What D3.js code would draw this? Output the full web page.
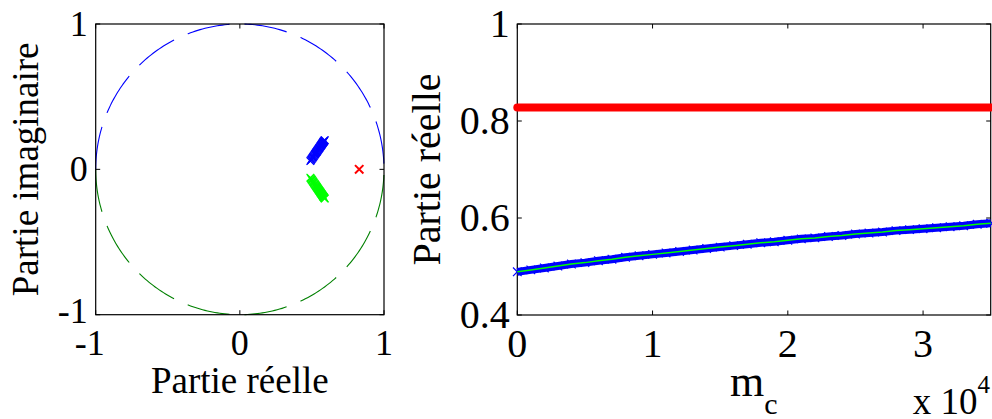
<!DOCTYPE html>
<html><head><meta charset="utf-8">
<script src="https://cdn.jsdelivr.net/npm/d3@7"></script>
<style>
body{margin:0;background:#fff}
svg{display:block}
</style>
</head><body>
<svg id="c" width="992" height="419" font-family="'Liberation Serif', 'DejaVu Serif', serif"></svg>
<script>
// ---- data ----
const mcValues = [0,1000,2000,3000,4000,5000,6000,7000,8000,9000,10000,11000,12000,13000,14000,15000,16000,17000,18000,19000,20000,21000,22000,23000,24000,25000,26000,27000,28000,29000,30000,31000,32000,33000,34000,35000];
const realPart = [0.489,0.493,0.497,0.501,0.505,0.508,0.512,0.515,0.519,0.522,0.525,0.528,0.531,0.534,0.537,0.540,0.543,0.546,0.549,0.551,0.554,0.557,0.559,0.562,0.564,0.567,0.569,0.571,0.574,0.576,0.578,0.580,0.582,0.584,0.587,0.589];
const imagPart = [0.057,0.063,0.069,0.074,0.080,0.085,0.090,0.095,0.101,0.105,0.109,0.114,0.118,0.122,0.127,0.131,0.135,0.140,0.144,0.147,0.151,0.156,0.159,0.163,0.166,0.170,0.173,0.176,0.180,0.183,0.186,0.189,0.192,0.194,0.199,0.201];
const redReal = [0.828,0.828,0.828,0.828,0.828,0.828,0.828,0.828,0.828,0.828,0.828,0.828,0.828,0.828,0.828,0.828,0.828,0.828,0.828,0.828,0.828,0.828,0.828,0.828,0.828,0.828,0.828,0.828,0.828,0.828,0.828,0.828,0.828,0.828,0.828,0.828];
const redImag = [0];
const redRealPoint = [0.828];
const circleTicks = [-1,0,1];
const circleTickLabels = ["-1","0","1"];
const mcTicks = [0,10000,20000,30000];
const mcTickLabels = ["0","1","2","3"];
const realTicks = [0.4,0.6,0.8,1];
const realTickLabels = ["0.4","0.6","0.8","1"];

const FONT = "'Liberation Serif', 'DejaVu Serif', serif";
const svg = d3.select("#c");
const TICKFS = 36, LABFS = 37, RTICKFS = 40;

function txt(g){ return g.append("text").attr("font-family",FONT).attr("fill","#000"); }

// ---------------- left panel: unit circle ----------------
const L = {x0:95.7, x1:384, y0:24, y1:314.7};
const lx = d3.scaleLinear().domain([-1,1]).range([L.x0, L.x1]);
const ly = d3.scaleLinear().domain([-1,1]).range([L.y1, L.y0]);
const gl = svg.append("g");

// unit circle reference (geometric construction)
const angUpper = d3.range(0, 181, 1).map(d => Math.PI - d*Math.PI/180);
const angLower = d3.range(0, 181, 1).map(d => Math.PI + d*Math.PI/180);
const circLine = d3.line().x(a => lx(Math.cos(a))).y(a => ly(Math.sin(a)));
gl.append("path").attr("d", circLine(angUpper)).attr("fill","none")
  .attr("stroke","#0000ff").attr("stroke-width",1.1).attr("stroke-dasharray","43 15");
gl.append("path").attr("d", circLine(angLower)).attr("fill","none")
  .attr("stroke","#008000").attr("stroke-width",1.1).attr("stroke-dasharray","43 15");

// box
gl.append("rect").attr("x",L.x0).attr("y",L.y0).attr("width",L.x1-L.x0).attr("height",L.y1-L.y0)
  .attr("fill","none").attr("stroke","#000").attr("stroke-width",1.2);
const TL = 4.5;
circleTicks.forEach(t => {
  gl.append("line").attr("x1",lx(t)).attr("x2",lx(t)).attr("y1",L.y1).attr("y2",L.y1-TL).attr("stroke","#000");
  gl.append("line").attr("x1",lx(t)).attr("x2",lx(t)).attr("y1",L.y0).attr("y2",L.y0+TL).attr("stroke","#000");
  gl.append("line").attr("y1",ly(t)).attr("y2",ly(t)).attr("x1",L.x0).attr("x2",L.x0+TL).attr("stroke","#000");
  gl.append("line").attr("y1",ly(t)).attr("y2",ly(t)).attr("x1",L.x1).attr("x2",L.x1-TL).attr("stroke","#000");
});
circleTicks.forEach((t,i) => {
  txt(gl).attr("x",lx(t) - (t<0?6:0)).attr("y",L.y1+40).attr("text-anchor","middle")
    .attr("font-size",TICKFS).text(circleTickLabels[i]);
  txt(gl).attr("x",L.x0-8).attr("y",ly(t)+0.33*TICKFS - (t<0?4:0)).attr("text-anchor","end")
    .attr("font-size",TICKFS).text(circleTickLabels[i]);
});
txt(gl).attr("x",(L.x0+L.x1)/2).attr("y",393).attr("text-anchor","middle")
  .attr("font-size",LABFS).text("Partie réelle");
txt(gl).attr("transform",`translate(38,${(L.y0+L.y1)/2}) rotate(-90)`).attr("text-anchor","middle")
  .attr("font-size",LABFS).text("Partie imaginaire");

// x markers
function xMark(g, px, py, s, color, w){
  g.append("path").attr("d",`M${px-s},${py-s}L${px+s},${py+s}M${px-s},${py+s}L${px+s},${py-s}`)
   .attr("stroke",color).attr("stroke-width",w).attr("fill","none");
}
realPart.forEach((r,i) => xMark(gl, lx(r), ly(-imagPart[i]), 3.8, "#00ff00", 1.3));
realPart.forEach((r,i) => xMark(gl, lx(r), ly(imagPart[i]), 3.8, "#0000ff", 1.3));
redRealPoint.forEach((r,i) => xMark(gl, lx(r), ly(redImag[i]), 4.2, "#ff0000", 2));

// ---------------- right panel ----------------
const R = {x0:517.3, x1:990.7, y0:24, y1:315};
const rx = d3.scaleLinear().domain([0,35000]).range([R.x0, R.x1]);
const ry = d3.scaleLinear().domain([0.4,1]).range([R.y1, R.y0]);
const gr = svg.append("g");
gr.append("rect").attr("x",R.x0).attr("y",R.y0).attr("width",R.x1-R.x0).attr("height",R.y1-R.y0)
  .attr("fill","none").attr("stroke","#000").attr("stroke-width",1.2);
mcTicks.forEach((t,i) => {
  gr.append("line").attr("x1",rx(t)).attr("x2",rx(t)).attr("y1",R.y1).attr("y2",R.y1-TL).attr("stroke","#000");
  gr.append("line").attr("x1",rx(t)).attr("x2",rx(t)).attr("y1",R.y0).attr("y2",R.y0+TL).attr("stroke","#000");
  txt(gr).attr("x",rx(t)).attr("y",R.y1+42).attr("text-anchor","middle")
    .attr("font-size",RTICKFS).text(mcTickLabels[i]);
});
realTicks.forEach((t,i) => {
  gr.append("line").attr("y1",ry(t)).attr("y2",ry(t)).attr("x1",R.x0).attr("x2",R.x0+TL).attr("stroke","#000");
  gr.append("line").attr("y1",ry(t)).attr("y2",ry(t)).attr("x1",R.x1).attr("x2",R.x1-TL).attr("stroke","#000");
  txt(gr).attr("x",R.x0-7.5).attr("y",ry(t)+0.33*RTICKFS).attr("text-anchor","end")
    .attr("font-size",RTICKFS).text(realTickLabels[i]);
});
txt(gr).attr("transform",`translate(440,${(R.y0+R.y1)/2}) rotate(-90)`).attr("text-anchor","middle")
  .attr("font-size",LABFS+3).text("Partie réelle");
const mc = txt(gr).attr("x",730).attr("y",396).attr("font-size",44);
mc.append("tspan").text("m");
mc.append("tspan").attr("font-size",30).attr("dy",18).text("c");
const ex = txt(gr).attr("x",990).attr("y",414).attr("text-anchor","end").attr("font-size",LABFS);
ex.append("tspan").text("x 10");
ex.append("tspan").attr("font-size",25).attr("dy",-21).text("4");

// data
const lineR = d3.line().x((d,i) => rx(mcValues[i])).y(d => ry(d));
gr.append("path").attr("d", lineR(redReal)).attr("fill","none").attr("stroke","#ff0000")
  .attr("stroke-width",8).attr("stroke-linecap","round");
gr.append("path").attr("d", lineR(realPart)).attr("fill","none").attr("stroke","#0000ff")
  .attr("stroke-width",8);
realPart.forEach((r,i) => xMark(gr, rx(mcValues[i]), ry(r), 4.3, "#0000ff", 1.2));
gr.append("path").attr("d", lineR(realPart)).attr("fill","none").attr("stroke","#00ff00")
  .attr("stroke-width",1.5);
</script>
</body></html>
